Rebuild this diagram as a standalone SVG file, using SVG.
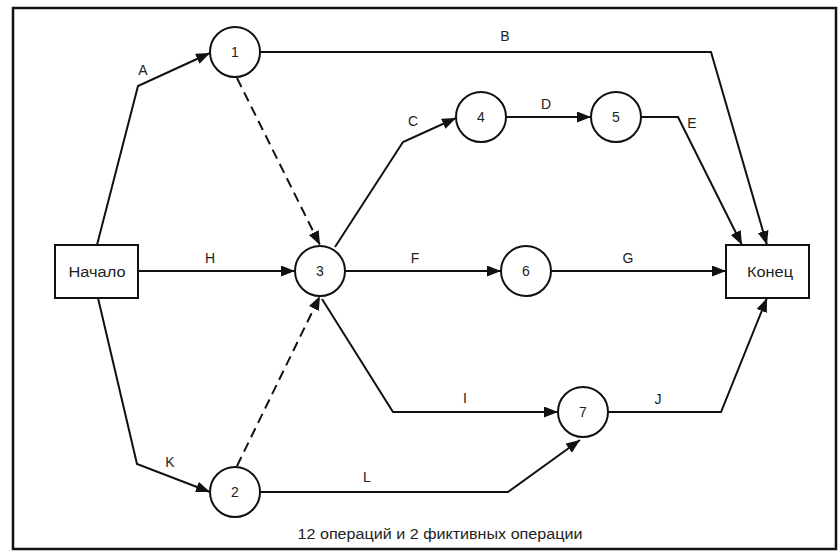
<svg xmlns="http://www.w3.org/2000/svg" width="840" height="552" viewBox="0 0 840 552">
<style>
.frame{fill:#fff;stroke:#111;stroke-width:2.5}
.node circle,.node rect{fill:#fff;stroke:#111;stroke-width:2}
.t{font-family:"Liberation Sans",Arial,sans-serif;font-size:14px;fill:#222;text-anchor:middle;dominant-baseline:central}
.lbl{font-family:"Liberation Sans",Arial,sans-serif;font-size:14px;fill:#222;text-anchor:middle;dominant-baseline:central}
.e{fill:none;stroke:#111;stroke-width:2;marker-end:url(#ah)}
.d{stroke-dasharray:10 6}
</style>
<defs>
<marker id="ah" markerUnits="userSpaceOnUse" markerWidth="16" markerHeight="12" refX="14" refY="5.5" orient="auto">
<path d="M0,0 L14,5.5 L0,11 Z" fill="#111"/>
</marker>
</defs>
<rect class="frame" x="13" y="8" width="823" height="541"/>
<g id="connectors">
<polyline class="e" points="97,245 138,86 210,53"/>
<polyline class="e" points="260,52 711,52 767,245"/>
<line class="e d" x1="237" y1="78" x2="320" y2="245"/>
<line class="e" x1="138" y1="271" x2="295" y2="271"/>
<polyline class="e" points="335,247 403,142 456,118"/>
<line class="e" x1="506" y1="117" x2="591" y2="117"/>
<polyline class="e" points="641,117 678,117 742,245"/>
<line class="e" x1="345" y1="271" x2="501" y2="271"/>
<line class="e" x1="551" y1="271" x2="726" y2="271"/>
<polyline class="e" points="322,299 393,412 558,412"/>
<polyline class="e" points="608,412 721,412 767,298"/>
<polyline class="e" points="98,298 137,464 210,492"/>
<line class="e d" x1="237" y1="466" x2="320" y2="296"/>
<polyline class="e" points="260,492 508,492 580,440"/>
</g>
<g id="labels">
<text class="lbl" x="143" y="70">A</text>
<text class="lbl" x="505" y="36">B</text>
<text class="lbl" x="413" y="121">C</text>
<text class="lbl" x="546" y="104">D</text>
<text class="lbl" x="692" y="123">E</text>
<text class="lbl" x="415" y="258">F</text>
<text class="lbl" x="628" y="258">G</text>
<text class="lbl" x="210" y="258">H</text>
<text class="lbl" x="465" y="398">I</text>
<text class="lbl" x="658" y="399">J</text>
<text class="lbl" x="170" y="462">K</text>
<text class="lbl" x="367" y="477">L</text>
</g>
<g id="start" class="node"><rect x="55" y="245" width="83" height="53"/><text class="t" x="97" y="272" textLength="57" lengthAdjust="spacingAndGlyphs">Начало</text></g>
<g id="end" class="node"><rect x="726" y="245" width="83" height="53"/><text class="t" x="770" y="272" textLength="46" lengthAdjust="spacingAndGlyphs">Конец</text></g>
<g id="n1" class="node"><circle cx="235" cy="52" r="25"/><text class="t" x="235" y="52">1</text></g>
<g id="n2" class="node"><circle cx="235" cy="492" r="25"/><text class="t" x="235" y="492">2</text></g>
<g id="n3" class="node"><circle cx="320" cy="271" r="25"/><text class="t" x="320" y="271">3</text></g>
<g id="n4" class="node"><circle cx="481" cy="117" r="25"/><text class="t" x="481" y="117">4</text></g>
<g id="n5" class="node"><circle cx="616" cy="117" r="25"/><text class="t" x="616" y="117">5</text></g>
<g id="n6" class="node"><circle cx="526" cy="271" r="25"/><text class="t" x="526" y="271">6</text></g>
<g id="n7" class="node"><circle cx="583" cy="412" r="25"/><text class="t" x="583" y="412">7</text></g>
<text class="t" x="440" y="534" textLength="285" lengthAdjust="spacingAndGlyphs">12 операций и 2 фиктивных операции</text>
</svg>
